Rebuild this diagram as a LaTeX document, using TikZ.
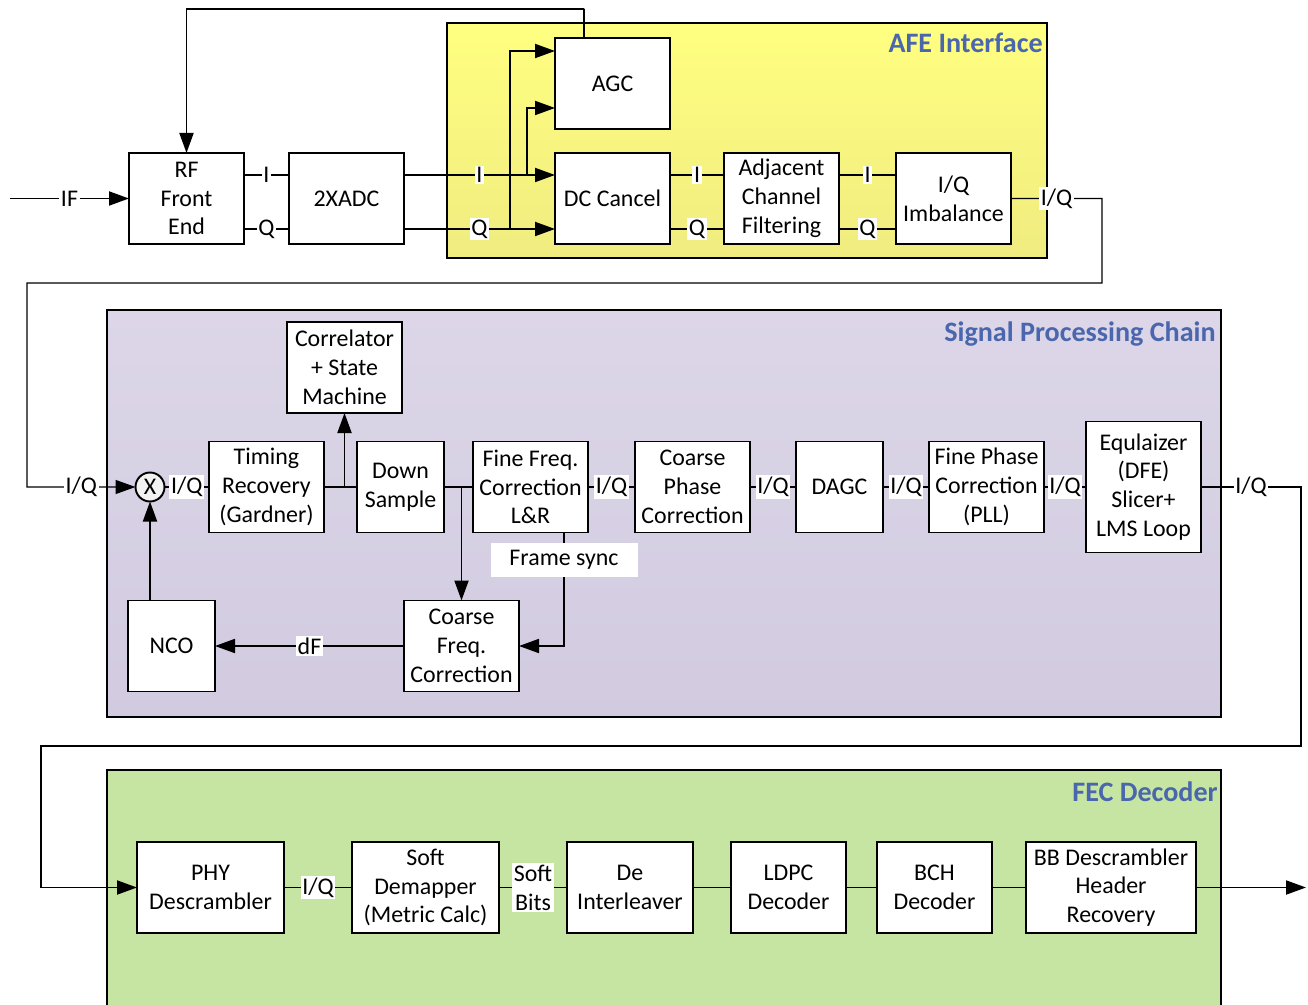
\documentclass[tikz,border=0pt]{standalone}
\usepackage{fontspec}
\setmainfont{Carlito}
\usetikzlibrary{arrows.meta, positioning, calc}
\definecolor{titleblue}{HTML}{4A66AC}
\definecolor{afeyellow}{HTML}{FFFF80}
\definecolor{afeyellowdark}{HTML}{F0EC80}
\definecolor{spclilac}{HTML}{DCD6E8}
\definecolor{spclilacdark}{HTML}{D2CBE0}
\definecolor{fecgreen}{HTML}{C6E4A2}
\definecolor{mixgray}{HTML}{F2F2F2}

\begin{document}
\begin{tikzpicture}[
  every node/.style={font=\fontsize{13.6pt}{16.4pt}\selectfont},
  block/.style={
    rectangle, draw=black, line width=1.1pt,
    minimum width=2.3cm, minimum height=1.82cm,
    align=center, fill=white, inner sep=1pt, outer sep=0pt,
  },
  narrow/.style={block, minimum width=1.74cm},
  wide/.style={block, minimum width=2.94cm},
  lbl/.style={fill=white, inner sep=1pt, align=center},
  framelbl/.style={fill=white, minimum width=2.94cm, minimum height=0.68cm, inner sep=0pt},
  grouptitle/.style={font=\fontsize{16pt}{19pt}\selectfont\bfseries, text=titleblue,
    anchor=base east, inner sep=0pt},
  wire/.style={line width=1.1pt},
  thinwire/.style={line width=0.8pt},
  arrow/.style={wire, -{Triangle[length=0.4cm,width=0.28cm]}},
  thinarrow/.style={thinwire, -{Triangle[length=0.4cm,width=0.28cm]}},
]
\useasboundingbox (0,0) rectangle (26.16,-20.1);

% Group backgrounds
\draw[line width=1.1pt, top color=afeyellow, bottom color=afeyellowdark]
  (8.94,-0.46) rectangle (20.94,-5.16);
\draw[line width=1.1pt, top color=spclilac, bottom color=spclilacdark]
  (2.14,-6.2) rectangle (24.42,-14.34);
\draw[line width=1.1pt, fill=fecgreen]
  (2.14,-15.4) rectangle (24.42,-20.2);

\node[grouptitle] (afetitle) at (20.86,-1.06) {AFE Interface};
\node[grouptitle] (spctitle) at (24.32,-6.84) {Signal Processing Chain};
\node[grouptitle] (fectitle) at (24.36,-16.02) {FEC Decoder};

% Row 1 — front end and AFE
\node[block] (rf) at (3.73,-3.97) {RF\\Front\\End};
\node[block, right=0.9cm of rf]   (adc) {2XADC};
\node[block] (agc) at (12.25,-1.67) {AGC};
\node[block, below=0.48cm of agc] (dc)  {DC Cancel};
\node[block, right=1.08cm of dc]  (acf) {Adjacent\\Channel\\Filtering};
\node[block, right=1.14cm of acf] (iqi) {I/Q\\Imbalance};

% Row 2 — signal processing chain
\node[circle, draw, line width=1.1pt, fill=mixgray, outer sep=0pt,
      minimum size=0.58cm, inner sep=0pt] (mix) at (3.0,-9.74) {X};
\node[block] (tr) at (5.33,-9.74) {Timing\\Recovery\\(Gardner)};
\node[narrow, right=0.66cm of tr]  (ds)   {Down\\Sample};
\node[block, right=0.58cm of ds]   (ffc)  {Fine Freq.\\Correction\\L\&R};
\node[block, right=0.94cm of ffc]  (cpc)  {Coarse\\Phase\\Correction};
\node[narrow, right=0.92cm of cpc] (dagc) {DAGC};
\node[block, right=0.92cm of dagc] (fpc)  {Fine Phase\\Correction\\(PLL)};
\node[block, right=0.84cm of fpc,
      minimum height=2.62cm]       (eq)   {Equlaizer\\(DFE)\\Slicer+\\LMS Loop};
\node[block] (corr) at (6.89,-7.35)  {Correlator\\+ State\\Machine};
\node[block] (cfc)  at (9.23,-12.92) {Coarse\\Freq.\\Correction};
\node[narrow] (nco) at (3.43,-12.92) {NCO};

% Row 3 — FEC decoder
\node[wide] (phy) at (4.21,-17.75)  {PHY\\Descrambler};
\node[wide, right=1.36cm of phy]    (sdm)  {Soft\\Demapper\\(Metric Calc)};
\node[block, right=1.36cm of sdm,
      minimum width=2.52cm]         (dil)  {De\\Interleaver};
\node[block, right=0.76cm of dil]   (ldpc) {LDPC\\Decoder};
\node[block, right=0.62cm of ldpc]  (bch)  {BCH\\Decoder};
\node[block, right=0.68cm of bch,
      minimum width=3.4cm]          (bb)   {BB Descrambler\\Header\\Recovery};

% Free ends and corners
\coordinate (ifin)    at (0.2,-3.97);
\coordinate (qtap)    at (10.2,-4.58);
\coordinate (itap)    at (10.54,-3.5);
\coordinate (agcfb)   at (11.68,-0.18);
\coordinate (afeout)  at (22.04,-3.97);
\coordinate (spcin)   at (0.54,-5.66);
\coordinate (spcout)  at (26.02,-9.74);
\coordinate (fecin)   at (0.82,-14.92);
\coordinate (fecout)  at (26.12,-17.75);

% Arrows — front end
\draw[arrow] (ifin) -- node[lbl]{IF} (rf.west);
\draw[wire] ([yshift=0.47cm]rf.east) -- node[lbl]{I} ([yshift=0.47cm]adc.west);
\draw[wire] ([yshift=-0.61cm]rf.east) -- node[lbl]{Q} ([yshift=-0.61cm]adc.west);
\draw[arrow] ([yshift=0.47cm]adc.east) -- node[lbl]{I} ([yshift=0.47cm]dc.west);
\draw[arrow] ([yshift=-0.61cm]adc.east) -- node[lbl]{Q} ([yshift=-0.61cm]dc.west);

% Taps to AGC, AGC back to RF
\draw[arrow] (qtap) |- ([yshift=0.65cm]agc.west);
\draw[arrow] (itap) |- ([yshift=-0.49cm]agc.west);
\draw[arrow] ([xshift=-0.57cm]agc.north) |- (agcfb) -| (rf.north);

% AFE chain
\draw[wire] ([yshift=0.47cm]dc.east) -- node[lbl]{I} ([yshift=0.47cm]acf.west);
\draw[wire] ([yshift=-0.61cm]dc.east) -- node[lbl]{Q} ([yshift=-0.61cm]acf.west);
\draw[wire] ([yshift=0.47cm]acf.east) -- node[lbl]{I} ([yshift=0.47cm]iqi.west);
\draw[wire] ([yshift=-0.61cm]acf.east) -- node[lbl]{Q} ([yshift=-0.61cm]iqi.west);

% AFE -> signal processing chain
\draw[thinarrow] (iqi.east) -- node[lbl]{I/Q} (afeout) |- (spcin)
  |- node[lbl, pos=0.75]{I/Q} (mix.west);

% Signal processing chain
\draw[wire] (mix.east) -- node[lbl]{I/Q} (tr.west);
\draw[wire] (tr.east) -- (ds.west);
\draw[arrow] (tr.east -| corr.south) -- (corr.south);
\draw[wire] (ds.east) -- (ffc.west);
\draw[arrow] (ds.east -| cfc.north) -- (cfc.north);
\draw[wire] (ffc.east) -- node[lbl]{I/Q} (cpc.west);
\draw[wire] (cpc.east) -- node[lbl]{I/Q} (dagc.west);
\draw[wire] (dagc.east) -- node[lbl]{I/Q} (fpc.west);
\draw[wire] (fpc.east) -- node[lbl]{I/Q} (eq.west);
\draw[arrow] ([xshift=0.67cm]ffc.south) |- node[pos=0.12, framelbl]{Frame sync} (cfc.east);
\draw[arrow] (cfc.west) -- node[lbl]{dF} (nco.east);
\draw[arrow] (nco.north -| mix.south) -- (mix.south);

% Signal processing chain -> FEC
\draw[arrow] (eq.east) -- node[lbl]{I/Q} (spcout) |- (fecin) |- (phy.west);

% FEC chain
\draw[wire] (phy.east) -- node[lbl]{I/Q} (sdm.west);
\draw[wire] (sdm.east) -- node[lbl]{Soft\\Bits} (dil.west);
\draw[wire] (dil) -- (ldpc);
\draw[wire] (ldpc) -- (bch);
\draw[wire] (bch) -- (bb);
\draw[arrow] (bb.east) -- (fecout);

\end{tikzpicture}
\end{document}
